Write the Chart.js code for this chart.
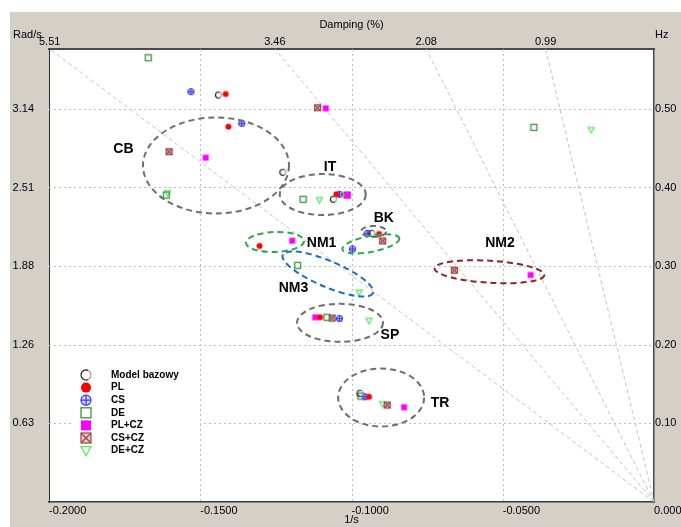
<!DOCTYPE html>
<html>
<head>
<meta charset="utf-8">
<script src="https://cdn.jsdelivr.net/npm/chart.js@4.4.0/dist/chart.umd.min.js"></script>
<style>
html,body{margin:0;padding:0;background:#fff;}
#c{display:block;}
</style>
</head>
<body>
<canvas id="c" width="681" height="527"></canvas>
<script>
// ---------- DATA ----------
const categories = ['Model bazowy','PL','CS','DE','PL+CZ','CS+CZ','DE+CZ'];
// [sigma (1/s), omega (rad/s)]
const modelBazowy = [[-0.1440,3.252],[-0.1227,2.635],[-0.1060,2.419],[-0.0933,2.147],[-0.0972,0.869]];
const pl   = [[-0.1416,3.260],[-0.1407,2.999],[-0.1050,2.459],[-0.0909,2.142],[-0.1304,2.046],[-0.1104,1.476],[-0.0942,0.841]];
const cs   = [[-0.1531,3.279],[-0.1363,3.026],[-0.1040,2.459],[-0.0948,2.147],[-0.0997,2.022],[-0.1040,1.466],[-0.0955,0.841]];
const de   = [[-0.1672,3.550],[-0.1612,2.453],[-0.1160,2.419],[-0.1178,1.891],[-0.1081,1.476],[-0.0969,0.847],[-0.0397,2.994]];
const plCz = [[-0.1085,3.146],[-0.1482,2.751],[-0.1012,2.453],[-0.1196,2.088],[-0.0408,1.814],[-0.1120,1.476],[-0.0826,0.757]];
const csCz = [[-0.1112,3.151],[-0.1603,2.799],[-0.1015,2.453],[-0.0897,2.086],[-0.0660,1.852],[-0.1064,1.470],[-0.0882,0.775]];
const deCz = [[-0.1608,2.469],[-0.1106,2.413],[-0.0975,1.674],[-0.0942,1.448],[-0.0897,0.783],[-0.0208,2.973]];

const xTickValues = [-0.20,-0.15,-0.10,-0.05,0.00];
const dampingTicks = [5.51, 3.46, 2.08, 0.99];       // % damping lines / top labels
const hzTicks = [0.10, 0.20, 0.30, 0.40, 0.50];
const radTickLabels = ['0.63','1.26','1.88','2.51','3.14'];
const hzTickLabels = ['0.10','0.20','0.30','0.40','0.50'];
const X_MIN = -0.2, X_MAX = 0.0, Y_MIN = 0, Y_MAX = 3.62;

// cluster annotations: name, label position (sigma, omega)
const clusterNames  = ['CB','IT','BK','NM1','NM2','NM3','SP','TR'];
const clusterLabelX = [-0.1754,-0.1071,-0.0893,-0.1099,-0.0509,-0.1192,-0.0873,-0.0707];
const clusterLabelY = [2.818, 2.675, 2.267, 2.067, 2.067, 1.712, 1.334, 0.793];
// ellipses: centre (sigma, omega)
const ellipseCx = [-0.1448,-0.1095,-0.0927,-0.0936,-0.1253,-0.1078,-0.0544,-0.1038,-0.0902];
const ellipseCy = [2.689, 2.457, 2.162, 2.063, 2.078, 1.822, 1.840, 1.432, 0.835];

// ---------- STYLE ----------
const ellipseStyle = [
  {rx:73,ry:48,rot:0,color:'#6e6e6e'},
  {rx:43,ry:20.5,rot:0,color:'#6e6e6e'},
  {rx:12.5,ry:5.5,rot:0,color:'#6e6e6e'},
  {rx:29,ry:8,rot:-11,color:'#2aa84a'},
  {rx:29,ry:10,rot:-2,color:'#2aa84a'},
  {rx:49,ry:13,rot:23,color:'#1f6fc4'},
  {rx:55,ry:11,rot:3.5,color:'#8e2323'},
  {rx:43,ry:19,rot:0,color:'#6e6e6e'},
  {rx:43,ry:29,rot:0,color:'#6e6e6e'}
];
const markerTypes = ['base','pl','cs','de','plcz','cscz','decz'];
const TICKFAM = "'Liberation Sans Narrow','Arial Narrow','Liberation Sans',Arial,sans-serif";

function drawMarker(ctx, type, x, y, s){
  ctx.save();
  ctx.setLineDash([]);
  ctx.lineWidth = 1.2;
  switch(type){
    case 'base':
      ctx.strokeStyle = '#1a1a1a';
      ctx.beginPath(); ctx.arc(x, y, s, 0.35*Math.PI, 1.65*Math.PI, false); ctx.stroke();
      ctx.strokeStyle = '#9a9a9a';
      ctx.beginPath(); ctx.arc(x, y, s, -0.35*Math.PI, 0.35*Math.PI); ctx.stroke();
      break;
    case 'pl':
      ctx.fillStyle = '#ff0000';
      ctx.beginPath(); ctx.arc(x, y, s, 0, Math.PI*2); ctx.fill();
      break;
    case 'cs':
      ctx.strokeStyle = '#3535ff'; ctx.fillStyle = 'rgba(190,190,255,0.6)';
      ctx.beginPath(); ctx.arc(x, y, s, 0, Math.PI*2); ctx.fill(); ctx.stroke();
      ctx.beginPath(); ctx.moveTo(x-s, y); ctx.lineTo(x+s, y); ctx.moveTo(x, y-s); ctx.lineTo(x, y+s); ctx.stroke();
      break;
    case 'de':
      ctx.strokeStyle = '#3a963a'; ctx.lineWidth = 1.3;
      ctx.strokeRect(x-s, y-s, 2*s, 2*s);
      break;
    case 'plcz':
      ctx.fillStyle = '#ff00ff';
      ctx.fillRect(x-s, y-s, 2*s, 2*s);
      break;
    case 'cscz':
      ctx.fillStyle = '#ecc8c8'; ctx.strokeStyle = '#9a4646';
      ctx.fillRect(x-s, y-s, 2*s, 2*s); ctx.strokeRect(x-s, y-s, 2*s, 2*s);
      ctx.beginPath(); ctx.moveTo(x-s, y-s); ctx.lineTo(x+s, y+s); ctx.moveTo(x+s, y-s); ctx.lineTo(x-s, y+s); ctx.stroke();
      break;
    case 'decz':
      ctx.strokeStyle = '#55e855';
      ctx.beginPath(); ctx.moveTo(x-s, y-s*0.8); ctx.lineTo(x+s, y-s*0.8); ctx.lineTo(x, y+s); ctx.closePath(); ctx.stroke();
      break;
  }
  ctx.restore();
}
function markerCanvas(type, s){
  const c = document.createElement('canvas');
  const d = Math.ceil(2*s+3);
  c.width = d; c.height = d;
  drawMarker(c.getContext('2d'), type, d/2, d/2, s);
  return c;
}

const seriesData = [modelBazowy, pl, cs, de, plCz, csCz, deCz];
const pointDatasets = categories.map((name, i) => ({
  label: name,
  data: seriesData[i].map(p => ({x: p[0], y: p[1]})),
  pointStyle: markerCanvas(markerTypes[i], 3),
  showLine: false,
  order: 1
}));
const dampSigmaTop = z => -(z/100) * Y_MAX / Math.sqrt(1 - (z/100)*(z/100));
const dampDatasets = dampingTicks.map(z => ({
  label: 'd' + z,
  data: [{x: 0, y: 0}, {x: dampSigmaTop(z), y: Y_MAX}],
  showLine: true, pointRadius: 0,
  borderColor: '#c4c4c4', borderWidth: 1, borderDash: [4, 3],
  order: 10
}));

const bgPlugin = {
  id: 'bg',
  beforeDraw(chart){
    const {ctx, chartArea: a} = chart;
    ctx.save();
    ctx.fillStyle = '#ffffff'; ctx.fillRect(0, 0, chart.width, chart.height);
    ctx.fillStyle = '#d4d0c8'; ctx.fillRect(10, 12, chart.width - 10, chart.height - 12);
    ctx.fillStyle = '#ffffff'; ctx.fillRect(a.left, a.top, a.right - a.left, a.bottom - a.top);
    ctx.restore();
  },
  beforeDatasetsDraw(chart){
    // dotted grid from the library scales
    const {ctx, chartArea: a} = chart;
    const xs = chart.scales.x, ys = chart.scales.y;
    ctx.save();
    ctx.strokeStyle = '#bdbdbd'; ctx.lineWidth = 1; ctx.setLineDash([2, 3]);
    xs.ticks.forEach(t => {
      const px = Math.round(xs.getPixelForValue(t.value)) + 0.5;
      if (px <= a.left + 1 || px >= a.right - 1) return;
      ctx.beginPath(); ctx.moveTo(px, a.top); ctx.lineTo(px, a.bottom); ctx.stroke();
    });
    ys.ticks.forEach(t => {
      const py = Math.round(ys.getPixelForValue(t.value)) + 0.5;
      ctx.beginPath(); ctx.moveTo(a.left, py); ctx.lineTo(a.right, py); ctx.stroke();
    });
    ctx.restore();
  },
  afterDraw(chart){
    const ctx = chart.ctx;
    ctx.save();
    ctx.fillStyle = '#000';
    ctx.font = '11px ' + TICKFAM;
    ctx.textBaseline = 'middle';
    ctx.textAlign = 'left';
    ctx.fillText('Rad/s', 13, 35);
    ctx.fillText('Hz', 655, 35);
    ctx.restore();
  }
};

const annPlugin = {
  id: 'ann',
  afterDatasetsDraw(chart){
    const {ctx, chartArea: a} = chart;
    const xs = chart.scales.x, ys = chart.scales.y;
    ctx.save();
    ellipseCx.forEach((cx, i) => {
      const st = ellipseStyle[i];
      ctx.beginPath();
      ctx.ellipse(xs.getPixelForValue(cx), ys.getPixelForValue(ellipseCy[i]), st.rx, st.ry, st.rot*Math.PI/180, 0, Math.PI*2);
      ctx.strokeStyle = st.color; ctx.lineWidth = 2; ctx.setLineDash([6, 4]);
      ctx.stroke();
    });
    ctx.setLineDash([]);
    ctx.fillStyle = '#000';
    ctx.font = "bold 14px 'Liberation Sans', Arial, sans-serif";
    ctx.textAlign = 'center'; ctx.textBaseline = 'middle';
    clusterNames.forEach((n, i) => {
      ctx.fillText(n, xs.getPixelForValue(clusterLabelX[i]), ys.getPixelForValue(clusterLabelY[i]));
    });
    // legend
    const lx = a.left + 24, ly = a.top + 316;
    ctx.fillStyle = '#ffffff';
    ctx.fillRect(lx, ly, 127, 96);
    const mx = a.left + 37, tx = a.left + 62, ty0 = a.top + 326, dy = 12.6;
    ctx.font = "bold 10px 'Liberation Sans', Arial, sans-serif";
    ctx.textAlign = 'left';
    categories.forEach((n, i) => {
      const y = ty0 + i*dy;
      drawMarker(ctx, markerTypes[i], mx, y, 5);
      ctx.fillStyle = '#000';
      ctx.fillText(n, tx, y);
    });
    ctx.restore();
  }
};

const tickFont = {family: TICKFAM, size: 11};
new Chart(document.getElementById('c'), {
  type: 'scatter',
  data: {datasets: [...pointDatasets, ...dampDatasets]},
  plugins: [bgPlugin, annPlugin],
  options: {
    responsive: false, animation: false, devicePixelRatio: 1,
    layout: {padding: 0},
    plugins: {legend: {display: false}, tooltip: {enabled: false}},
    elements: {point: {radius: 3}},
    scales: {
      x: {
        type: 'linear', position: 'bottom', min: X_MIN, max: X_MAX,
        afterBuildTicks: s => { s.ticks = xTickValues.map(v => ({value: v})); },
        afterFit: s => { s.height = 25; s.paddingLeft = 0; s.paddingRight = 0; },
        ticks: {font: tickFont, color: '#000', align: 'start', padding: 2, maxRotation: 0,
                callback: v => Number(v).toFixed(4)},
        grid: {display: false, drawTicks: false},
        border: {display: true, color: '#3a3a3a', width: 1.5},
        title: {display: true, text: '1/s', font: tickFont, color: '#000', padding: 0}
      },
      x2: {
        type: 'linear', position: 'top', min: X_MIN, max: X_MAX,
        afterBuildTicks: s => { s.ticks = dampingTicks.map(z => ({value: dampSigmaTop(z)})); },
        afterFit: s => { s.height = 49; s.paddingLeft = 0; s.paddingRight = 0; },
        ticks: {font: tickFont, color: '#000', padding: 0, maxRotation: 0,
                callback: (v, i) => dampingTicks[i].toFixed(2)},
        grid: {display: false, drawTicks: false},
        border: {display: true, color: '#4a4a4a', width: 2},
        title: {display: true, text: 'Damping (%)', font: tickFont, color: '#000', padding: {top: 18, bottom: 0}}
      },
      y: {
        type: 'linear', position: 'left', min: Y_MIN, max: Y_MAX,
        afterBuildTicks: s => { s.ticks = hzTicks.map(f => ({value: 2*Math.PI*f})); },
        afterFit: s => { s.width = 49; s.paddingTop = 0; s.paddingBottom = 0; },
        ticks: {font: tickFont, color: '#000', padding: 15, callback: (v, i) => radTickLabels[i]},
        grid: {display: false, drawTicks: false},
        border: {display: true, color: '#303030', width: 1, dash: [2, 2]}
      },
      y2: {
        type: 'linear', position: 'right', min: Y_MIN, max: Y_MAX,
        afterBuildTicks: s => { s.ticks = hzTicks.map(f => ({value: 2*Math.PI*f})); },
        afterFit: s => { s.width = 27; s.paddingTop = 0; s.paddingBottom = 0; },
        ticks: {font: tickFont, color: '#000', padding: 1, callback: (v, i) => hzTickLabels[i]},
        grid: {display: false, drawTicks: false},
        border: {display: true, color: '#4a4a4a', width: 1.5}
      }
    }
  }
});
</script>
</body>
</html>
